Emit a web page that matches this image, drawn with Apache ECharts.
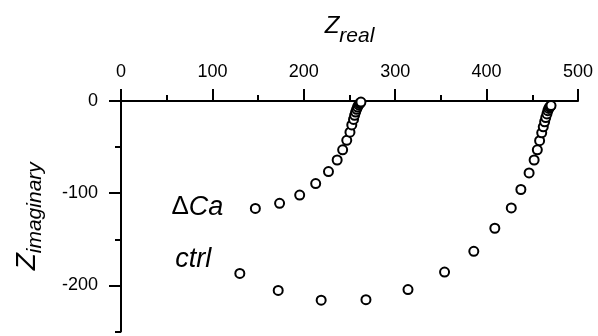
<!DOCTYPE html>
<html>
<head>
<meta charset="utf-8">
<script src="https://cdn.jsdelivr.net/npm/echarts@6/dist/echarts.min.js"></script>
<style>
html,body{margin:0;padding:0;background:#fff;}
#chart{width:598px;height:336px;}
</style>
</head>
<body>
<div id="chart"></div>
<script>
// ---- data ----
const ctrlReal = [130, 172, 219, 268, 314, 354, 386, 409, 427, 437.5, 446.5, 452, 455.5, 458, 460.3, 462, 463.5, 464.7, 466, 467, 468, 469, 470, 470.5];
const ctrlImag = [-187, -205.5, -216, -215.5, -204.5, -185.5, -163, -138, -116, -96, -78, -64, -53, -43, -34.5, -28, -22.5, -18, -14, -10.5, -8, -6.5, -5.5, -5];
const caReal = [147, 173.5, 195.5, 213, 227, 236.5, 242.5, 247, 250.5, 252.5, 254.4, 255.6, 256.7, 257.8, 258.8, 260, 261, 262, 262.5];
const caImag = [-116.5, -111, -102, -89.5, -76.5, -64, -53, -42.7, -33.8, -26, -20, -15.5, -12, -9, -6.5, -4.3, -2.8, -1.8, -1.2];
const xMin = 0, xMax = 500, xInterval = 100;
const yMin = -250, yMax = 0;
const yMajorTicks = [0, -100, -200];
const yMinorTicks = [-50, -150, -250];
const annotTexts = ['{d|\u0394}{i|Ca}', '{i|ctrl}'];
const annotReal = [83.5, 79];
const annotImag = [-115, -171.5];

const FONT = "'Liberation Sans', Arial, sans-serif";
const zip = (a, b) => a.map((v, i) => [v, b[i]]);

const chart = echarts.init(document.getElementById('chart'), null, {renderer: 'canvas'});
const markerStyle = {color: '#ffffff', borderColor: '#000000', borderWidth: 2, opacity: 1};

chart.setOption({
  backgroundColor: '#ffffff',
  animation: false,
  grid: {left: 120, right: 20, top: 101, bottom: 4.5, containLabel: false},
  xAxis: {
    type: 'value', position: 'top', min: xMin, max: xMax, interval: xInterval,
    name: '{z|Z}{s|real}', nameLocation: 'middle', nameGap: 60.5,
    nameTextStyle: {
      rich: {
        z: {fontSize: 24, fontStyle: 'italic', fontFamily: FONT, color: '#000', lineHeight: 28, verticalAlign: 'middle'},
        s: {fontSize: 21, fontStyle: 'italic', fontFamily: FONT, color: '#000', lineHeight: 21, padding: [19, 0, 0, 0], verticalAlign: 'middle'}
      }
    },
    axisLine: {onZero: false, lineStyle: {color: '#000', width: 2}},
    axisTick: {show: true, length: 12, inside: false, lineStyle: {color: '#000', width: 2}},
    minorTick: {show: true, splitNumber: 2, length: 6, lineStyle: {color: '#000', width: 2}},
    axisLabel: {margin: 20, fontSize: 18, fontFamily: FONT, color: '#000'},
    splitLine: {show: false}, minorSplitLine: {show: false}
  },
  yAxis: [{
    type: 'value', position: 'left', min: yMin, max: yMax,
    name: '{z|Z}{s|imaginary}', nameLocation: 'middle', nameGap: 78,
    nameTextStyle: {
      rich: {
        z: {fontSize: 28, fontStyle: 'italic', fontFamily: FONT, color: '#000', lineHeight: 32, verticalAlign: 'middle'},
        s: {fontSize: 21, fontStyle: 'italic', fontFamily: FONT, color: '#000', lineHeight: 21, padding: [17, 0, 0, 0], verticalAlign: 'middle'}
      }
    },
    axisLine: {onZero: false, lineStyle: {color: '#000', width: 2}},
    axisTick: {show: true, length: 12, customValues: yMajorTicks, lineStyle: {color: '#000', width: 2}},
    axisLabel: {margin: 23, fontSize: 18, fontFamily: FONT, color: '#000', customValues: yMajorTicks},
    splitLine: {show: false}
  }, {
    type: 'value', position: 'left', offset: 0, min: yMin, max: yMax,
    axisLine: {show: false},
    axisTick: {show: true, length: 6, customValues: yMinorTicks, lineStyle: {color: '#000', width: 2}},
    axisLabel: {show: false},
    splitLine: {show: false}
  }],
  series: [{
    name: 'ctrl', type: 'scatter', yAxisIndex: 0, symbol: 'circle', symbolSize: 9,
    itemStyle: markerStyle, data: zip(ctrlReal, ctrlImag), silent: true
  }, {
    name: 'ΔCa', type: 'scatter', yAxisIndex: 0, symbol: 'circle', symbolSize: 9,
    itemStyle: markerStyle, data: zip(caReal, caImag), silent: true
  }]
});

// annotation texts, placed through the chart's own coordinate system
const richStyle = {
  d: {fontSize: 26, fontFamily: FONT, fill: '#000', color: '#000'},
  i: {fontSize: 27, fontStyle: 'italic', fontFamily: FONT, fill: '#000', color: '#000'}
};
chart.setOption({
  graphic: annotTexts.map((t, i) => {
    const p = chart.convertToPixel({xAxisIndex: 0, yAxisIndex: 0}, [annotReal[i], annotImag[i]]);
    return {
      type: 'text', x: p[0], y: p[1], silent: true, z: 10,
      style: {text: t, rich: richStyle, fill: '#000', align: 'center', verticalAlign: 'middle',
              font: "italic 27px 'Liberation Sans', Arial, sans-serif"}
    };
  })
});
</script>
</body>
</html>
